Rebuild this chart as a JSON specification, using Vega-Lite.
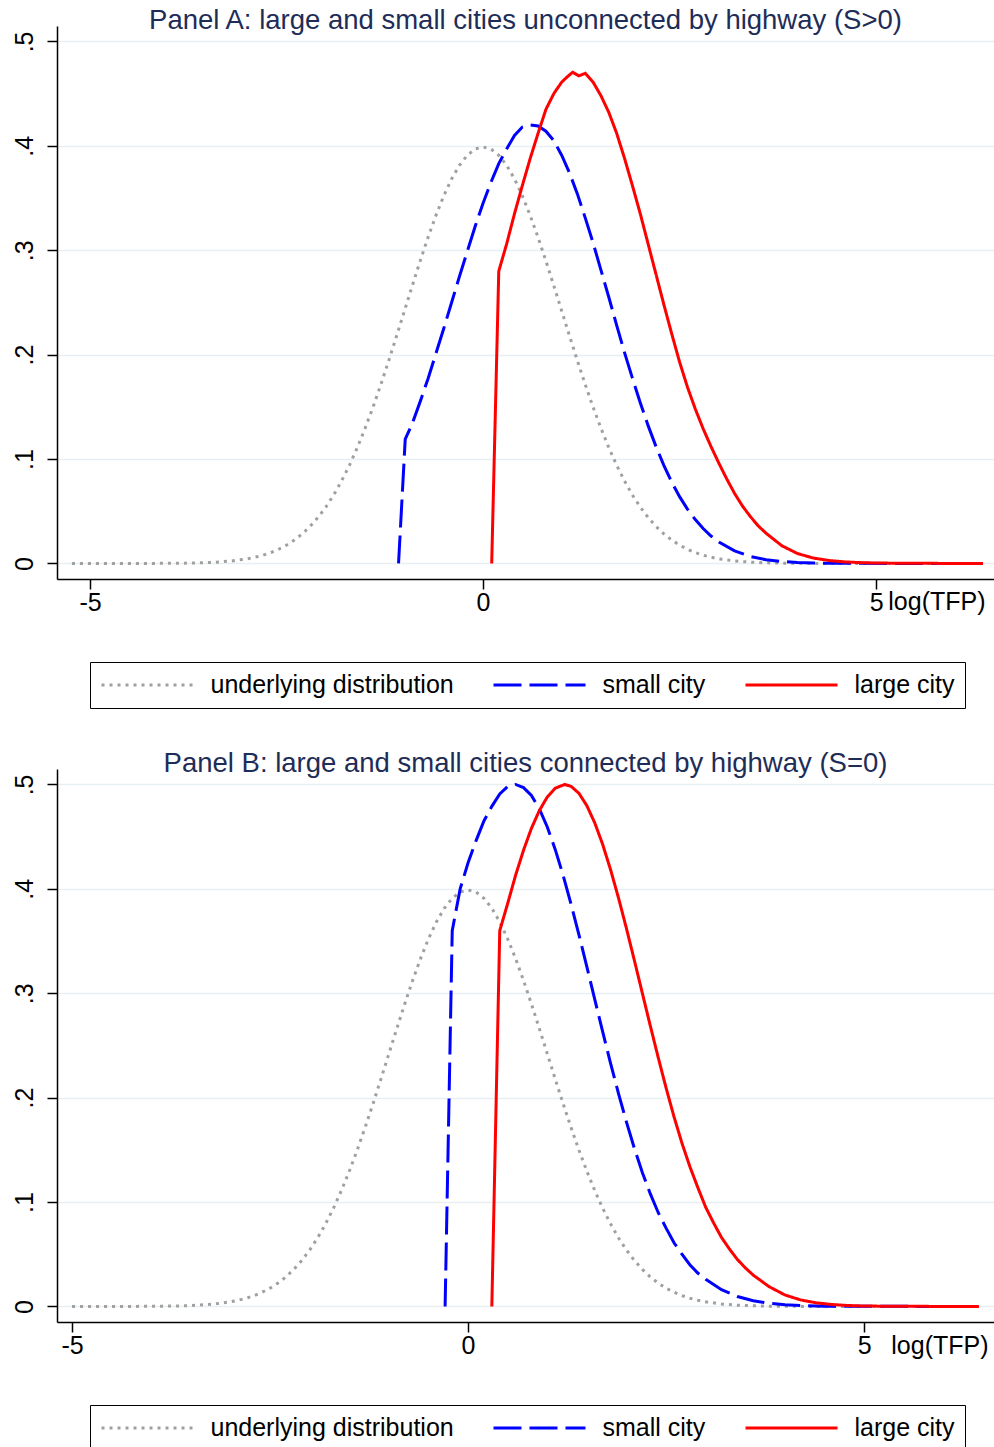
{
  "$schema": "https://vega.github.io/schema/vega-lite/v6.json",
  "background": "white",
  "padding": {"left": 12, "top": 7, "right": 0, "bottom": 0},
  "spacing": 41,
  "config": {
    "view": {"stroke": null},
    "font": "Liberation Sans",
    "axis": {
      "domainColor": "black", "domainWidth": 1.5,
      "tickColor": "black", "tickWidth": 1.5, "tickSize": 10,
      "labelColor": "black", "labelFontSize": 25, "labelFont": "Liberation Sans",
      "gridColor": "#e8eff2", "gridWidth": 1.5,
      "titleColor": "black", "titleFont": "Liberation Sans", "titleFontSize": 25, "titleFontWeight": "normal"
    },
    "title": {"font": "Liberation Sans", "fontSize": 27.5, "fontWeight": "normal", "color": "#1e2d57", "anchor": "middle", "baseline": "alphabetic", "offset": -8.5},
    "legend": {
      "orient": "none", "legendX": 33, "legendY": 636, "direction": "horizontal",
      "symbolType": "M-4,0L4,0", "symbolSize": 529, "symbolStrokeWidth": 3, "symbolOffset": 34.5,
      "labelFontSize": 25, "labelFont": "Liberation Sans", "labelColor": "black", "labelLimit": 500,
      "labelOffset": 50, "columnPadding": 33, "padding": 10,
      "strokeColor": "black", "fillColor": "white"
    }
  },
  "datasets": {
    "a": [
      {"series": "underlying distribution", "x": -5.23, "y": 0},
      {"series": "underlying distribution", "x": -4.5, "y": 0},
      {"series": "underlying distribution", "x": -4.0, "y": 0.0001},
      {"series": "underlying distribution", "x": -3.8, "y": 0.0003},
      {"series": "underlying distribution", "x": -3.6, "y": 0.0006},
      {"series": "underlying distribution", "x": -3.4, "y": 0.0012},
      {"series": "underlying distribution", "x": -3.2, "y": 0.0024},
      {"series": "underlying distribution", "x": -3.0, "y": 0.0044},
      {"series": "underlying distribution", "x": -2.9, "y": 0.006},
      {"series": "underlying distribution", "x": -2.8, "y": 0.0079},
      {"series": "underlying distribution", "x": -2.7, "y": 0.0104},
      {"series": "underlying distribution", "x": -2.6, "y": 0.0136},
      {"series": "underlying distribution", "x": -2.5, "y": 0.0175},
      {"series": "underlying distribution", "x": -2.4, "y": 0.0224},
      {"series": "underlying distribution", "x": -2.3, "y": 0.0283},
      {"series": "underlying distribution", "x": -2.2, "y": 0.0355},
      {"series": "underlying distribution", "x": -2.1, "y": 0.044},
      {"series": "underlying distribution", "x": -2.0, "y": 0.054},
      {"series": "underlying distribution", "x": -1.9, "y": 0.0656},
      {"series": "underlying distribution", "x": -1.8, "y": 0.079},
      {"series": "underlying distribution", "x": -1.7, "y": 0.094},
      {"series": "underlying distribution", "x": -1.6, "y": 0.1109},
      {"series": "underlying distribution", "x": -1.5, "y": 0.1295},
      {"series": "underlying distribution", "x": -1.4, "y": 0.1497},
      {"series": "underlying distribution", "x": -1.3, "y": 0.1714},
      {"series": "underlying distribution", "x": -1.2, "y": 0.1942},
      {"series": "underlying distribution", "x": -1.1, "y": 0.2179},
      {"series": "underlying distribution", "x": -1.0, "y": 0.242},
      {"series": "underlying distribution", "x": -0.9, "y": 0.2661},
      {"series": "underlying distribution", "x": -0.8, "y": 0.2897},
      {"series": "underlying distribution", "x": -0.7, "y": 0.3123},
      {"series": "underlying distribution", "x": -0.6, "y": 0.3332},
      {"series": "underlying distribution", "x": -0.5, "y": 0.3521},
      {"series": "underlying distribution", "x": -0.4, "y": 0.3683},
      {"series": "underlying distribution", "x": -0.3, "y": 0.3814},
      {"series": "underlying distribution", "x": -0.2, "y": 0.391},
      {"series": "underlying distribution", "x": -0.1, "y": 0.397},
      {"series": "underlying distribution", "x": 0.0, "y": 0.3989},
      {"series": "underlying distribution", "x": 0.1, "y": 0.397},
      {"series": "underlying distribution", "x": 0.2, "y": 0.391},
      {"series": "underlying distribution", "x": 0.3, "y": 0.3814},
      {"series": "underlying distribution", "x": 0.4, "y": 0.3683},
      {"series": "underlying distribution", "x": 0.5, "y": 0.3521},
      {"series": "underlying distribution", "x": 0.6, "y": 0.3332},
      {"series": "underlying distribution", "x": 0.7, "y": 0.3123},
      {"series": "underlying distribution", "x": 0.8, "y": 0.2897},
      {"series": "underlying distribution", "x": 0.9, "y": 0.2661},
      {"series": "underlying distribution", "x": 1.0, "y": 0.242},
      {"series": "underlying distribution", "x": 1.1, "y": 0.2179},
      {"series": "underlying distribution", "x": 1.2, "y": 0.1942},
      {"series": "underlying distribution", "x": 1.3, "y": 0.1714},
      {"series": "underlying distribution", "x": 1.4, "y": 0.1497},
      {"series": "underlying distribution", "x": 1.5, "y": 0.1295},
      {"series": "underlying distribution", "x": 1.6, "y": 0.1109},
      {"series": "underlying distribution", "x": 1.7, "y": 0.094},
      {"series": "underlying distribution", "x": 1.8, "y": 0.079},
      {"series": "underlying distribution", "x": 1.9, "y": 0.0656},
      {"series": "underlying distribution", "x": 2.0, "y": 0.054},
      {"series": "underlying distribution", "x": 2.1, "y": 0.044},
      {"series": "underlying distribution", "x": 2.2, "y": 0.0355},
      {"series": "underlying distribution", "x": 2.3, "y": 0.0283},
      {"series": "underlying distribution", "x": 2.4, "y": 0.0224},
      {"series": "underlying distribution", "x": 2.5, "y": 0.0175},
      {"series": "underlying distribution", "x": 2.6, "y": 0.0136},
      {"series": "underlying distribution", "x": 2.7, "y": 0.0104},
      {"series": "underlying distribution", "x": 2.8, "y": 0.0079},
      {"series": "underlying distribution", "x": 2.9, "y": 0.006},
      {"series": "underlying distribution", "x": 3.0, "y": 0.0044},
      {"series": "underlying distribution", "x": 3.2, "y": 0.0024},
      {"series": "underlying distribution", "x": 3.4, "y": 0.0012},
      {"series": "underlying distribution", "x": 3.6, "y": 0.0006},
      {"series": "underlying distribution", "x": 3.8, "y": 0.0003},
      {"series": "underlying distribution", "x": 4.0, "y": 0.0001},
      {"series": "underlying distribution", "x": 4.5, "y": 0},
      {"series": "underlying distribution", "x": 6.3, "y": 0},
      {"series": "small city", "x": -1.075, "y": 0},
      {"series": "small city", "x": -0.99, "y": 0.119},
      {"series": "small city", "x": -0.9, "y": 0.134},
      {"series": "small city", "x": -0.8, "y": 0.155},
      {"series": "small city", "x": -0.7, "y": 0.177},
      {"series": "small city", "x": -0.6, "y": 0.201},
      {"series": "small city", "x": -0.5, "y": 0.225},
      {"series": "small city", "x": -0.4, "y": 0.25},
      {"series": "small city", "x": -0.3, "y": 0.275},
      {"series": "small city", "x": -0.2, "y": 0.299},
      {"series": "small city", "x": -0.1, "y": 0.323},
      {"series": "small city", "x": 0.0, "y": 0.345},
      {"series": "small city", "x": 0.1, "y": 0.365},
      {"series": "small city", "x": 0.2, "y": 0.383},
      {"series": "small city", "x": 0.3, "y": 0.397},
      {"series": "small city", "x": 0.4, "y": 0.41},
      {"series": "small city", "x": 0.5, "y": 0.418},
      {"series": "small city", "x": 0.6, "y": 0.42},
      {"series": "small city", "x": 0.7, "y": 0.419},
      {"series": "small city", "x": 0.8, "y": 0.414},
      {"series": "small city", "x": 0.9, "y": 0.405},
      {"series": "small city", "x": 1.0, "y": 0.391},
      {"series": "small city", "x": 1.1, "y": 0.374},
      {"series": "small city", "x": 1.2, "y": 0.354},
      {"series": "small city", "x": 1.3, "y": 0.331},
      {"series": "small city", "x": 1.4, "y": 0.307},
      {"series": "small city", "x": 1.5, "y": 0.281},
      {"series": "small city", "x": 1.6, "y": 0.255},
      {"series": "small city", "x": 1.7, "y": 0.228},
      {"series": "small city", "x": 1.8, "y": 0.202},
      {"series": "small city", "x": 1.9, "y": 0.1775},
      {"series": "small city", "x": 2.0, "y": 0.154},
      {"series": "small city", "x": 2.1, "y": 0.132},
      {"series": "small city", "x": 2.2, "y": 0.112},
      {"series": "small city", "x": 2.3, "y": 0.094},
      {"series": "small city", "x": 2.4, "y": 0.078},
      {"series": "small city", "x": 2.5, "y": 0.064},
      {"series": "small city", "x": 2.6, "y": 0.052},
      {"series": "small city", "x": 2.7, "y": 0.042},
      {"series": "small city", "x": 2.8, "y": 0.0334},
      {"series": "small city", "x": 2.9, "y": 0.0263},
      {"series": "small city", "x": 3.0, "y": 0.0205},
      {"series": "small city", "x": 3.2, "y": 0.012},
      {"series": "small city", "x": 3.4, "y": 0.0067},
      {"series": "small city", "x": 3.6, "y": 0.0036},
      {"series": "small city", "x": 3.8, "y": 0.0019},
      {"series": "small city", "x": 4.0, "y": 0.0009},
      {"series": "small city", "x": 4.2, "y": 0.0004},
      {"series": "small city", "x": 4.5, "y": 0.0001},
      {"series": "small city", "x": 5.78, "y": 0},
      {"series": "large city", "x": 0.11, "y": 0},
      {"series": "large city", "x": 0.2, "y": 0.28},
      {"series": "large city", "x": 0.3, "y": 0.306},
      {"series": "large city", "x": 0.4, "y": 0.335},
      {"series": "large city", "x": 0.5, "y": 0.362},
      {"series": "large city", "x": 0.6, "y": 0.388},
      {"series": "large city", "x": 0.7, "y": 0.412},
      {"series": "large city", "x": 0.8, "y": 0.435},
      {"series": "large city", "x": 0.9, "y": 0.45},
      {"series": "large city", "x": 1.0, "y": 0.461},
      {"series": "large city", "x": 1.07, "y": 0.466},
      {"series": "large city", "x": 1.14, "y": 0.4705},
      {"series": "large city", "x": 1.22, "y": 0.467},
      {"series": "large city", "x": 1.3, "y": 0.4695},
      {"series": "large city", "x": 1.4, "y": 0.461},
      {"series": "large city", "x": 1.5, "y": 0.448},
      {"series": "large city", "x": 1.6, "y": 0.432},
      {"series": "large city", "x": 1.7, "y": 0.412},
      {"series": "large city", "x": 1.8, "y": 0.388},
      {"series": "large city", "x": 1.9, "y": 0.362},
      {"series": "large city", "x": 2.0, "y": 0.335},
      {"series": "large city", "x": 2.1, "y": 0.306},
      {"series": "large city", "x": 2.2, "y": 0.277},
      {"series": "large city", "x": 2.3, "y": 0.248},
      {"series": "large city", "x": 2.4, "y": 0.22},
      {"series": "large city", "x": 2.5, "y": 0.193},
      {"series": "large city", "x": 2.6, "y": 0.169},
      {"series": "large city", "x": 2.7, "y": 0.148},
      {"series": "large city", "x": 2.8, "y": 0.129},
      {"series": "large city", "x": 2.9, "y": 0.112},
      {"series": "large city", "x": 3.0, "y": 0.096},
      {"series": "large city", "x": 3.1, "y": 0.081},
      {"series": "large city", "x": 3.2, "y": 0.067},
      {"series": "large city", "x": 3.3, "y": 0.055},
      {"series": "large city", "x": 3.4, "y": 0.045},
      {"series": "large city", "x": 3.5, "y": 0.036},
      {"series": "large city", "x": 3.6, "y": 0.029},
      {"series": "large city", "x": 3.8, "y": 0.017},
      {"series": "large city", "x": 4.0, "y": 0.0095},
      {"series": "large city", "x": 4.2, "y": 0.0052},
      {"series": "large city", "x": 4.4, "y": 0.0028},
      {"series": "large city", "x": 4.6, "y": 0.0015},
      {"series": "large city", "x": 4.8, "y": 0.0008},
      {"series": "large city", "x": 5.0, "y": 0.0004},
      {"series": "large city", "x": 5.5, "y": 0.0001},
      {"series": "large city", "x": 6.36, "y": 0}
    ],
    "b": [
      {"series": "underlying distribution", "x": -5.0, "y": 0},
      {"series": "underlying distribution", "x": -4.5, "y": 0},
      {"series": "underlying distribution", "x": -4.0, "y": 0.0001},
      {"series": "underlying distribution", "x": -3.8, "y": 0.0003},
      {"series": "underlying distribution", "x": -3.6, "y": 0.0006},
      {"series": "underlying distribution", "x": -3.4, "y": 0.0012},
      {"series": "underlying distribution", "x": -3.2, "y": 0.0024},
      {"series": "underlying distribution", "x": -3.0, "y": 0.0044},
      {"series": "underlying distribution", "x": -2.9, "y": 0.006},
      {"series": "underlying distribution", "x": -2.8, "y": 0.0079},
      {"series": "underlying distribution", "x": -2.7, "y": 0.0104},
      {"series": "underlying distribution", "x": -2.6, "y": 0.0136},
      {"series": "underlying distribution", "x": -2.5, "y": 0.0175},
      {"series": "underlying distribution", "x": -2.4, "y": 0.0224},
      {"series": "underlying distribution", "x": -2.3, "y": 0.0283},
      {"series": "underlying distribution", "x": -2.2, "y": 0.0355},
      {"series": "underlying distribution", "x": -2.1, "y": 0.044},
      {"series": "underlying distribution", "x": -2.0, "y": 0.054},
      {"series": "underlying distribution", "x": -1.9, "y": 0.0656},
      {"series": "underlying distribution", "x": -1.8, "y": 0.079},
      {"series": "underlying distribution", "x": -1.7, "y": 0.094},
      {"series": "underlying distribution", "x": -1.6, "y": 0.1109},
      {"series": "underlying distribution", "x": -1.5, "y": 0.1295},
      {"series": "underlying distribution", "x": -1.4, "y": 0.1497},
      {"series": "underlying distribution", "x": -1.3, "y": 0.1714},
      {"series": "underlying distribution", "x": -1.2, "y": 0.1942},
      {"series": "underlying distribution", "x": -1.1, "y": 0.2179},
      {"series": "underlying distribution", "x": -1.0, "y": 0.242},
      {"series": "underlying distribution", "x": -0.9, "y": 0.2661},
      {"series": "underlying distribution", "x": -0.8, "y": 0.2897},
      {"series": "underlying distribution", "x": -0.7, "y": 0.3123},
      {"series": "underlying distribution", "x": -0.6, "y": 0.3332},
      {"series": "underlying distribution", "x": -0.5, "y": 0.3521},
      {"series": "underlying distribution", "x": -0.4, "y": 0.3683},
      {"series": "underlying distribution", "x": -0.3, "y": 0.3814},
      {"series": "underlying distribution", "x": -0.2, "y": 0.391},
      {"series": "underlying distribution", "x": -0.1, "y": 0.397},
      {"series": "underlying distribution", "x": 0.0, "y": 0.3989},
      {"series": "underlying distribution", "x": 0.1, "y": 0.397},
      {"series": "underlying distribution", "x": 0.2, "y": 0.391},
      {"series": "underlying distribution", "x": 0.3, "y": 0.3814},
      {"series": "underlying distribution", "x": 0.4, "y": 0.3683},
      {"series": "underlying distribution", "x": 0.5, "y": 0.3521},
      {"series": "underlying distribution", "x": 0.6, "y": 0.3332},
      {"series": "underlying distribution", "x": 0.7, "y": 0.3123},
      {"series": "underlying distribution", "x": 0.8, "y": 0.2897},
      {"series": "underlying distribution", "x": 0.9, "y": 0.2661},
      {"series": "underlying distribution", "x": 1.0, "y": 0.242},
      {"series": "underlying distribution", "x": 1.1, "y": 0.2179},
      {"series": "underlying distribution", "x": 1.2, "y": 0.1942},
      {"series": "underlying distribution", "x": 1.3, "y": 0.1714},
      {"series": "underlying distribution", "x": 1.4, "y": 0.1497},
      {"series": "underlying distribution", "x": 1.5, "y": 0.1295},
      {"series": "underlying distribution", "x": 1.6, "y": 0.1109},
      {"series": "underlying distribution", "x": 1.7, "y": 0.094},
      {"series": "underlying distribution", "x": 1.8, "y": 0.079},
      {"series": "underlying distribution", "x": 1.9, "y": 0.0656},
      {"series": "underlying distribution", "x": 2.0, "y": 0.054},
      {"series": "underlying distribution", "x": 2.1, "y": 0.044},
      {"series": "underlying distribution", "x": 2.2, "y": 0.0355},
      {"series": "underlying distribution", "x": 2.3, "y": 0.0283},
      {"series": "underlying distribution", "x": 2.4, "y": 0.0224},
      {"series": "underlying distribution", "x": 2.5, "y": 0.0175},
      {"series": "underlying distribution", "x": 2.6, "y": 0.0136},
      {"series": "underlying distribution", "x": 2.7, "y": 0.0104},
      {"series": "underlying distribution", "x": 2.8, "y": 0.0079},
      {"series": "underlying distribution", "x": 2.9, "y": 0.006},
      {"series": "underlying distribution", "x": 3.0, "y": 0.0044},
      {"series": "underlying distribution", "x": 3.2, "y": 0.0024},
      {"series": "underlying distribution", "x": 3.4, "y": 0.0012},
      {"series": "underlying distribution", "x": 3.6, "y": 0.0006},
      {"series": "underlying distribution", "x": 3.8, "y": 0.0003},
      {"series": "underlying distribution", "x": 4.0, "y": 0.0001},
      {"series": "underlying distribution", "x": 4.5, "y": 0},
      {"series": "underlying distribution", "x": 6.4, "y": 0},
      {"series": "small city", "x": -0.29, "y": 0},
      {"series": "small city", "x": -0.2, "y": 0.36},
      {"series": "small city", "x": -0.1, "y": 0.4},
      {"series": "small city", "x": 0.0, "y": 0.425},
      {"series": "small city", "x": 0.1, "y": 0.446},
      {"series": "small city", "x": 0.2, "y": 0.465},
      {"series": "small city", "x": 0.3, "y": 0.479},
      {"series": "small city", "x": 0.4, "y": 0.491},
      {"series": "small city", "x": 0.5, "y": 0.498},
      {"series": "small city", "x": 0.6, "y": 0.5},
      {"series": "small city", "x": 0.7, "y": 0.497},
      {"series": "small city", "x": 0.8, "y": 0.4895},
      {"series": "small city", "x": 0.9, "y": 0.4767},
      {"series": "small city", "x": 1.0, "y": 0.4593},
      {"series": "small city", "x": 1.1, "y": 0.4378},
      {"series": "small city", "x": 1.2, "y": 0.413},
      {"series": "small city", "x": 1.3, "y": 0.3854},
      {"series": "small city", "x": 1.4, "y": 0.3559},
      {"series": "small city", "x": 1.5, "y": 0.3252},
      {"series": "small city", "x": 1.6, "y": 0.2939},
      {"series": "small city", "x": 1.7, "y": 0.2629},
      {"series": "small city", "x": 1.8, "y": 0.2326},
      {"series": "small city", "x": 1.9, "y": 0.2037},
      {"series": "small city", "x": 2.0, "y": 0.1765},
      {"series": "small city", "x": 2.1, "y": 0.1513},
      {"series": "small city", "x": 2.2, "y": 0.1283},
      {"series": "small city", "x": 2.3, "y": 0.108},
      {"series": "small city", "x": 2.4, "y": 0.09},
      {"series": "small city", "x": 2.5, "y": 0.075},
      {"series": "small city", "x": 2.6, "y": 0.061},
      {"series": "small city", "x": 2.7, "y": 0.05},
      {"series": "small city", "x": 2.8, "y": 0.04},
      {"series": "small city", "x": 2.9, "y": 0.032},
      {"series": "small city", "x": 3.0, "y": 0.026},
      {"series": "small city", "x": 3.2, "y": 0.016},
      {"series": "small city", "x": 3.4, "y": 0.0095},
      {"series": "small city", "x": 3.6, "y": 0.0055},
      {"series": "small city", "x": 3.8, "y": 0.003},
      {"series": "small city", "x": 4.0, "y": 0.0016},
      {"series": "small city", "x": 4.2, "y": 0.0008},
      {"series": "small city", "x": 4.5, "y": 0.0003},
      {"series": "small city", "x": 5.9, "y": 0},
      {"series": "large city", "x": 0.3, "y": 0},
      {"series": "large city", "x": 0.4, "y": 0.36},
      {"series": "large city", "x": 0.5, "y": 0.386},
      {"series": "large city", "x": 0.6, "y": 0.413},
      {"series": "large city", "x": 0.7, "y": 0.437},
      {"series": "large city", "x": 0.8, "y": 0.458},
      {"series": "large city", "x": 0.9, "y": 0.475},
      {"series": "large city", "x": 1.0, "y": 0.488},
      {"series": "large city", "x": 1.1, "y": 0.4964},
      {"series": "large city", "x": 1.22, "y": 0.5},
      {"series": "large city", "x": 1.3, "y": 0.4982},
      {"series": "large city", "x": 1.4, "y": 0.4915},
      {"series": "large city", "x": 1.5, "y": 0.4796},
      {"series": "large city", "x": 1.6, "y": 0.4631},
      {"series": "large city", "x": 1.7, "y": 0.4424},
      {"series": "large city", "x": 1.8, "y": 0.4181},
      {"series": "large city", "x": 1.9, "y": 0.3911},
      {"series": "large city", "x": 2.0, "y": 0.3619},
      {"series": "large city", "x": 2.1, "y": 0.3313},
      {"series": "large city", "x": 2.2, "y": 0.3001},
      {"series": "large city", "x": 2.3, "y": 0.269},
      {"series": "large city", "x": 2.4, "y": 0.2386},
      {"series": "large city", "x": 2.5, "y": 0.2093},
      {"series": "large city", "x": 2.6, "y": 0.1817},
      {"series": "large city", "x": 2.7, "y": 0.1565},
      {"series": "large city", "x": 2.8, "y": 0.134},
      {"series": "large city", "x": 2.9, "y": 0.114},
      {"series": "large city", "x": 3.0, "y": 0.095},
      {"series": "large city", "x": 3.1, "y": 0.08},
      {"series": "large city", "x": 3.2, "y": 0.066},
      {"series": "large city", "x": 3.3, "y": 0.055},
      {"series": "large city", "x": 3.4, "y": 0.045},
      {"series": "large city", "x": 3.5, "y": 0.037},
      {"series": "large city", "x": 3.6, "y": 0.03},
      {"series": "large city", "x": 3.8, "y": 0.019},
      {"series": "large city", "x": 4.0, "y": 0.011},
      {"series": "large city", "x": 4.2, "y": 0.0062},
      {"series": "large city", "x": 4.4, "y": 0.0034},
      {"series": "large city", "x": 4.6, "y": 0.0018},
      {"series": "large city", "x": 4.8, "y": 0.0009},
      {"series": "large city", "x": 5.0, "y": 0.0004},
      {"series": "large city", "x": 5.5, "y": 0.0001},
      {"series": "large city", "x": 6.45, "y": 0}
    ]
  },
  "vconcat": [
    {
      "title": {"text": "Panel A: large and small cities unconnected by highway (S>0)"},
      "width": 937,
      "height": 553,
      "data": {"name": "a"},
      "mark": {"type": "line", "strokeWidth": 3},
      "encoding": {
        "x": {
          "field": "x", "type": "quantitative",
          "scale": {"domain": [-5.42, 6.5], "nice": false, "zero": false},
          "axis": {"values": [-5, 0, 5], "grid": false, "labelExpr": "'' + datum.value", "labelPadding": 1, "labelFlush": false,
                   "title": "log(TFP)", "titleAnchor": "end", "titleAlign": "right", "titleBaseline": "alphabetic", "titleX": 928, "titleY": 30}
        },
        "y": {
          "field": "y", "type": "quantitative",
          "scale": {"domain": [-0.0149, 0.5148], "nice": false, "zero": false},
          "axis": {"values": [0, 0.1, 0.2, 0.3, 0.4, 0.5], "title": null, "grid": true,
                   "labelAngle": -90, "labelAlign": "center", "labelBaseline": "alphabetic", "labelPadding": 15,
                   "labelExpr": "datum.value == 0 ? '0' : replace(format(datum.value, '.1f'), '0.', '.')"}
        },
        "color": {
          "field": "series", "type": "nominal",
          "scale": {"domain": ["underlying distribution", "small city", "large city"], "range": ["#a0a0a0", "#0000ff", "#ff0000"]},
          "legend": {"title": null}
        },
        "strokeDash": {
          "field": "series", "type": "nominal",
          "scale": {"domain": ["underlying distribution", "small city", "large city"], "range": [[3, 5], [28, 8], [1, 0]]},
          "legend": {"title": null}
        }
      }
    },
    {
      "title": {"text": "Panel B: large and small cities connected by highway (S=0)"},
      "width": 937,
      "height": 553,
      "data": {"name": "b"},
      "mark": {"type": "line", "strokeWidth": 3},
      "encoding": {
        "x": {
          "field": "x", "type": "quantitative",
          "scale": {"domain": [-5.19, 6.64], "nice": false, "zero": false},
          "axis": {"values": [-5, 0, 5], "grid": false, "labelExpr": "'' + datum.value", "labelPadding": 1, "labelFlush": false,
                   "title": "log(TFP)", "titleAnchor": "end", "titleAlign": "right", "titleBaseline": "alphabetic", "titleX": 931, "titleY": 31}
        },
        "y": {
          "field": "y", "type": "quantitative",
          "scale": {"domain": [-0.0149, 0.5148], "nice": false, "zero": false},
          "axis": {"values": [0, 0.1, 0.2, 0.3, 0.4, 0.5], "title": null, "grid": true,
                   "labelAngle": -90, "labelAlign": "center", "labelBaseline": "alphabetic", "labelPadding": 15,
                   "labelExpr": "datum.value == 0 ? '0' : replace(format(datum.value, '.1f'), '0.', '.')"}
        },
        "color": {
          "field": "series", "type": "nominal",
          "scale": {"domain": ["underlying distribution", "small city", "large city"], "range": ["#a0a0a0", "#0000ff", "#ff0000"]},
          "legend": {"title": null}
        },
        "strokeDash": {
          "field": "series", "type": "nominal",
          "scale": {"domain": ["underlying distribution", "small city", "large city"], "range": [[3, 5], [28, 8], [1, 0]]},
          "legend": {"title": null}
        }
      }
    }
  ],
  "resolve": {"scale": {"x": "independent", "color": "independent", "strokeDash": "independent"}}
}
